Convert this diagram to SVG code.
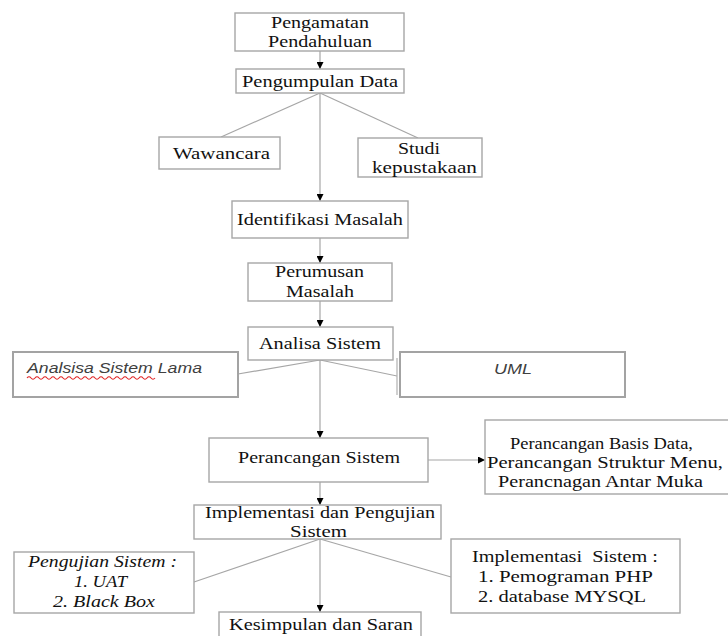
<svg xmlns="http://www.w3.org/2000/svg" width="728" height="636" viewBox="0 0 728 636">
<style>
.box{fill:#fff;stroke:#a6a6a6;stroke-width:1.4}
.box2{fill:#fff;stroke:#a3a3a3;stroke-width:2}
.t{font-family:"Liberation Serif","Times New Roman",serif;font-size:16.5px;fill:#111;white-space:pre}
.ti{font-family:"Liberation Serif","Times New Roman",serif;font-size:16.5px;font-style:italic;fill:#111}
.c{font-family:"Liberation Sans",Arial,sans-serif;font-size:15px;font-style:italic;fill:#404040}
.ln{stroke:#a6a6a6;stroke-width:1.2;fill:none}
</style>
<defs>
<marker id="ah" viewBox="0 0 8 8" refX="8" refY="4" markerWidth="7" markerHeight="7" markerUnits="userSpaceOnUse" orient="auto">
<path d="M0,0 L8,4 L0,8 z" fill="#000"/>
</marker>
</defs>
<g id="connectors">
<line class="ln" x1="320" y1="51" x2="320" y2="69" marker-end="url(#ah)"/>
<line class="ln" x1="320" y1="93" x2="320" y2="201" marker-end="url(#ah)"/>
<line class="ln" x1="320" y1="238" x2="320" y2="263" marker-end="url(#ah)"/>
<line class="ln" x1="320" y1="301" x2="320" y2="327" marker-end="url(#ah)"/>
<line class="ln" x1="320" y1="360" x2="320" y2="438" marker-end="url(#ah)"/>
<line class="ln" x1="320" y1="482" x2="320" y2="505" marker-end="url(#ah)"/>
<line class="ln" x1="320" y1="539" x2="320" y2="612" marker-end="url(#ah)"/>
<line class="ln" x1="428" y1="460" x2="485" y2="460" marker-end="url(#ah)"/>
<line class="ln" x1="320" y1="93" x2="221" y2="137"/>
<line class="ln" x1="320" y1="93" x2="418" y2="138"/>
<line class="ln" x1="320" y1="360" x2="238" y2="374"/>
<line class="ln" x1="320" y1="360" x2="397" y2="376"/>
<line class="ln" x1="320" y1="539" x2="194" y2="582"/>
<line class="ln" x1="320" y1="539" x2="451" y2="577"/>
</g>
<g id="n1"><rect class="box" x="235" y="13" width="169" height="38"/>
<text class="t" x="271" y="28" textLength="98" lengthAdjust="spacingAndGlyphs">Pengamatan</text>
<text class="t" x="268" y="47" textLength="104" lengthAdjust="spacingAndGlyphs">Pendahuluan</text></g>
<g id="n2"><rect class="box" x="236" y="69" width="168" height="24"/>
<text class="t" x="242" y="87" textLength="156" lengthAdjust="spacingAndGlyphs">Pengumpulan Data</text></g>
<g id="n3"><rect class="box" x="159" y="137" width="121" height="32"/>
<text class="t" x="173" y="159" textLength="97" lengthAdjust="spacingAndGlyphs">Wawancara</text></g>
<g id="n4"><rect class="box" x="358" y="138" width="124" height="39"/>
<text class="t" x="398" y="154" textLength="42" lengthAdjust="spacingAndGlyphs">Studi</text>
<text class="t" x="372" y="173" textLength="105" lengthAdjust="spacingAndGlyphs">kepustakaan</text></g>
<g id="n5"><rect class="box" x="232" y="201" width="176" height="37"/>
<text class="t" x="237" y="225" textLength="166" lengthAdjust="spacingAndGlyphs">Identifikasi Masalah</text></g>
<g id="n6"><rect class="box" x="248" y="263" width="144" height="38"/>
<text class="t" x="275" y="277" textLength="89" lengthAdjust="spacingAndGlyphs">Perumusan</text>
<text class="t" x="286" y="297" textLength="68" lengthAdjust="spacingAndGlyphs">Masalah</text></g>
<g id="n7"><rect class="box" x="248" y="327" width="145" height="33"/>
<text class="t" x="259" y="349" textLength="122" lengthAdjust="spacingAndGlyphs">Analisa Sistem</text></g>
<g id="n8"><rect class="box2" x="13" y="352" width="225" height="45"/>
<text class="c" x="27" y="373" textLength="175" lengthAdjust="spacingAndGlyphs">Analsisa Sistem Lama</text>
<path d="M27,378 q2,-2.5 4,0 t4,0 t4,0 t4,0 t4,0 t4,0 t4,0 t4,0 t4,0 t4,0 t4,0 t4,0 t4,0 t4,0 t4,0 t4,0 t4,0 t4,0 t4,0 t4,0 t4,0 t4,0 t4,0 t4,0 t4,0 t4,0 t4,0 t4,0 t4,0 t4,0 t4,0 t4,0" fill="none" stroke="#e02020" stroke-width="1.1"/></g>
<g id="n9"><line x1="397" y1="358" x2="397" y2="395" stroke="#b0b0b0" stroke-width="1.2"/>
<rect class="box2" x="400" y="352" width="225" height="45"/>
<text class="c" x="494" y="374" textLength="38" lengthAdjust="spacingAndGlyphs">UML</text></g>
<g id="n10"><rect class="box" x="209" y="438" width="219" height="44"/>
<text class="t" x="238" y="463" textLength="162" lengthAdjust="spacingAndGlyphs">Perancangan Sistem</text></g>
<g id="n11"><rect class="box" x="485" y="420" width="250" height="74"/>
<text class="t" x="510" y="449" textLength="183" lengthAdjust="spacingAndGlyphs">Perancangan Basis Data,</text>
<text class="t" x="487" y="468" textLength="236" lengthAdjust="spacingAndGlyphs">Perancangan Struktur Menu,</text>
<text class="t" x="498" y="487" textLength="205" lengthAdjust="spacingAndGlyphs">Perancnagan Antar Muka</text></g>
<g id="n12"><rect class="box" x="194" y="505" width="247" height="34"/>
<text class="t" x="205" y="518" textLength="230" lengthAdjust="spacingAndGlyphs">Implementasi dan Pengujian</text>
<text class="t" x="290" y="537" textLength="57" lengthAdjust="spacingAndGlyphs">Sistem</text></g>
<g id="n13"><rect class="box" x="14" y="552" width="180" height="61"/>
<text class="ti" x="28" y="567" textLength="149" lengthAdjust="spacingAndGlyphs">Pengujian Sistem :</text>
<text class="ti" x="74" y="587" textLength="53" lengthAdjust="spacingAndGlyphs">1. UAT</text>
<text class="ti" x="53" y="607" textLength="102" lengthAdjust="spacingAndGlyphs">2. Black Box</text></g>
<g id="n14"><rect class="box" x="451" y="539" width="229" height="74"/>
<text class="t" x="472" y="562" textLength="186" lengthAdjust="spacingAndGlyphs">Implementasi  Sistem :</text>
<text class="t" x="478" y="582" textLength="175" lengthAdjust="spacingAndGlyphs">1. Pemograman PHP</text>
<text class="t" x="478" y="602" textLength="168" lengthAdjust="spacingAndGlyphs">2. database MYSQL</text></g>
<g id="n15"><rect class="box" x="219" y="612" width="202" height="30"/>
<text class="t" x="229" y="630" textLength="184" lengthAdjust="spacingAndGlyphs">Kesimpulan dan Saran</text></g>
</svg>
